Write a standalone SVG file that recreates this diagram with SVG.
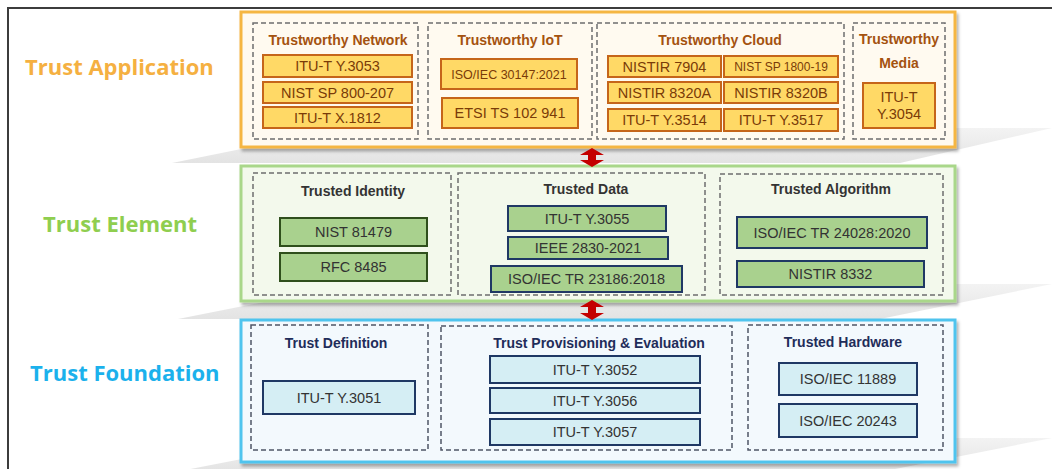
<svg xmlns="http://www.w3.org/2000/svg" width="1052" height="469" viewBox="0 0 1052 469">
<defs>
<filter id="sh" x="-5%" y="-10%" width="110%" height="125%">
<feDropShadow dx="2" dy="3" stdDeviation="1.5" flood-color="#000" flood-opacity="0.3"/>
</filter>
<linearGradient id="pl" x1="0" y1="0" x2="0" y2="1">
<stop offset="0" stop-color="#f3f3f3"/>
<stop offset="1" stop-color="#e3e3e3"/>
</linearGradient>
</defs>
<style>
text{font-family:"Liberation Sans",Arial,sans-serif;text-anchor:middle}
.lbl{font-family:"Open Sans","Noto Sans",sans-serif;font-weight:700;font-size:22px;text-anchor:start}
.dash{fill:none;stroke:#6e6e6e;stroke-width:1.5;stroke-dasharray:5 3}
.ttl{font-weight:700;font-size:14px}
.o-item{fill:#ffd966;stroke:#c5651a;stroke-width:2}
.o-t{fill:#7a3b08;font-size:14.5px}
.o-ttl{fill:#a4520f}
.g-item{fill:#a9d18e;stroke:#2f4f1c;stroke-width:2}
.g-item2{fill:#a9d18e;stroke:#1f3864;stroke-width:2}
.b-item{fill:#d5eef4;stroke:#1f3864;stroke-width:2}
.t{fill:#333;font-size:14.5px}
.plane{fill:url(#pl)}
.arr{fill:#c40000}
</style>
<rect width="1052" height="469" fill="#fff"/>
<path d="M8 469 V8 H1052" fill="none" stroke="#3c3c3c" stroke-width="2"/>

<g id="planes">
<polygon class="plane" points="172,163 345,128 1052,128 900,163"/>
<polygon class="plane" points="178,319 355,284 1052,284 880,319"/>
<polygon class="plane" points="175,472 350,438 1052,438 880,472"/>
</g>

<g id="trust-application">
<text class="lbl" x="25" y="75" fill="#f5b041">Trust Application</text>
<rect x="241" y="12" width="714" height="135" fill="#fffaf0" stroke="#f5b642" stroke-width="3" filter="url(#sh)"/>
<g id="trustworthy-network">
<rect class="dash" x="253" y="23" width="165" height="116"/>
<text class="ttl o-ttl" x="338" y="45">Trustworthy Network</text>
<rect class="o-item" x="263" y="55" width="149" height="22"/>
<text class="o-t" x="337.5" y="71">ITU-T Y.3053</text>
<rect class="o-item" x="263" y="82" width="149" height="21"/>
<text class="o-t" x="337.5" y="97.5">NIST SP 800-207</text>
<rect class="o-item" x="263" y="107" width="149" height="21"/>
<text class="o-t" x="337.5" y="122.5">ITU-T X.1812</text>
</g>
<g id="trustworthy-iot">
<rect class="dash" x="428" y="23" width="164" height="116"/>
<text class="ttl o-ttl" x="510" y="45">Trustworthy IoT</text>
<rect class="o-item" x="441" y="59" width="136" height="30"/>
<text class="o-t" x="509" y="78.5" style="font-size:12.5px">ISO/IEC 30147:2021</text>
<rect class="o-item" x="442" y="98" width="136" height="30"/>
<text class="o-t" x="510" y="118">ETSI TS 102 941</text>
</g>
<g id="trustworthy-cloud">
<rect class="dash" x="597" y="23" width="247" height="116"/>
<text class="ttl o-ttl" x="720" y="45">Trustworthy Cloud</text>
<rect class="o-item" x="608" y="56" width="113" height="21"/>
<text class="o-t" x="664.5" y="71.5">NISTIR 7904</text>
<rect class="o-item" x="724" y="56" width="114" height="21"/>
<text class="o-t" x="781" y="71" style="font-size:12px">NIST SP 1800-19</text>
<rect class="o-item" x="608" y="82" width="113" height="21"/>
<text class="o-t" x="664.5" y="97.5">NISTIR 8320A</text>
<rect class="o-item" x="724" y="82" width="114" height="21"/>
<text class="o-t" x="781" y="97.5">NISTIR 8320B</text>
<rect class="o-item" x="608" y="109" width="113" height="22"/>
<text class="o-t" x="664.5" y="125">ITU-T Y.3514</text>
<rect class="o-item" x="724" y="109" width="114" height="22"/>
<text class="o-t" x="781" y="125">ITU-T Y.3517</text>
</g>
<g id="trustworthy-media">
<rect class="dash" x="853" y="23" width="92" height="116"/>
<text class="ttl o-ttl" x="899" y="44">Trustworthy</text>
<text class="ttl o-ttl" x="899" y="68">Media</text>
<rect class="o-item" x="863" y="83" width="72" height="45"/>
<text class="o-t" x="899" y="102">ITU-T</text>
<text class="o-t" x="899" y="119">Y.3054</text>
</g>
</g>

<g id="trust-element">
<text class="lbl" x="43" y="232" fill="#8fce4f">Trust Element</text>
<rect x="241" y="166" width="714" height="135" fill="#f3f9ec" stroke="#a9d78a" stroke-width="3" filter="url(#sh)"/>
<g id="trusted-identity">
<rect class="dash" x="253" y="173" width="198" height="122"/>
<text class="ttl" x="353" y="196" fill="#333">Trusted Identity</text>
<rect class="g-item" x="280" y="218" width="147" height="28"/>
<text class="t" x="353.5" y="237">NIST 81479</text>
<rect class="g-item" x="280" y="253" width="147" height="28"/>
<text class="t" x="353.5" y="272">RFC 8485</text>
</g>
<g id="trusted-data">
<rect class="dash" x="458" y="173" width="247" height="122"/>
<text class="ttl" x="586" y="194" fill="#333">Trusted Data</text>
<rect class="g-item2" x="508" y="206" width="158" height="25"/>
<text class="t" x="587" y="223.5">ITU-T Y.3055</text>
<rect class="g-item2" x="508" y="237" width="160" height="22"/>
<text class="t" x="588" y="253">IEEE 2830-2021</text>
<rect class="g-item2" x="491" y="266" width="191" height="26"/>
<text class="t" x="586.5" y="284">ISO/IEC TR 23186:2018</text>
</g>
<g id="trusted-algorithm">
<rect class="dash" x="720" y="174" width="223" height="121"/>
<text class="ttl" x="831" y="194" fill="#333">Trusted Algorithm</text>
<rect class="g-item2" x="737" y="217" width="190" height="31"/>
<text class="t" x="832" y="237.5">ISO/IEC TR 24028:2020</text>
<rect class="g-item2" x="737" y="261" width="187" height="26"/>
<text class="t" x="830.5" y="279">NISTIR 8332</text>
</g>
</g>

<g id="trust-foundation">
<text class="lbl" x="30" y="381" fill="#1bb1ec">Trust Foundation</text>
<rect x="241" y="320" width="714" height="142" fill="#f3f9fd" stroke="#50c4ee" stroke-width="3" filter="url(#sh)"/>
<g id="trust-definition">
<rect class="dash" x="251" y="325" width="177" height="125" style="stroke:#4f5566"/>
<text class="ttl" x="336" y="348" fill="#1f2d5a">Trust Definition</text>
<rect class="b-item" x="263" y="381" width="152" height="33"/>
<text class="t" x="339" y="402.5">ITU-T Y.3051</text>
</g>
<g id="trust-provisioning">
<rect class="dash" x="441" y="326" width="291" height="124" style="stroke:#4f5566"/>
<text class="ttl" x="599" y="348" fill="#1f2d5a">Trust Provisioning &amp; Evaluation</text>
<rect class="b-item" x="490" y="356" width="210" height="27"/>
<text class="t" x="595" y="374.5">ITU-T Y.3052</text>
<rect class="b-item" x="490" y="388" width="210" height="25"/>
<text class="t" x="595" y="405.5">ITU-T Y.3056</text>
<rect class="b-item" x="490" y="419" width="210" height="26"/>
<text class="t" x="595" y="437">ITU-T Y.3057</text>
</g>
<g id="trusted-hardware">
<rect class="dash" x="748" y="325" width="195" height="125" style="stroke:#4f5566"/>
<text class="ttl" x="843" y="347" fill="#1f2d5a">Trusted Hardware</text>
<rect class="b-item" x="779" y="363" width="138" height="32"/>
<text class="t" x="848" y="384">ISO/IEC 11889</text>
<rect class="b-item" x="779" y="404" width="138" height="33"/>
<text class="t" x="848" y="425.5">ISO/IEC 20243</text>
</g>
</g>

<g id="connectors">
<polygon class="arr" points="592,148 604,155 596,155 596,160 604,160 592,167 580,160 588,160 588,155 580,155"/>
<polygon class="arr" points="592,300 604,307 596,307 596,313 604,313 592,320 580,313 588,313 588,307 580,307"/>
</g>
</svg>
